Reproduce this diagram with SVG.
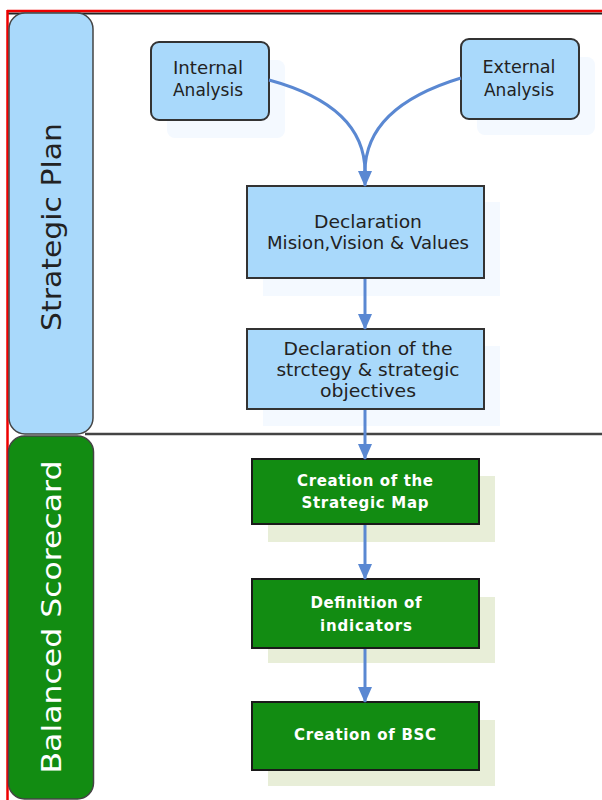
<svg xmlns="http://www.w3.org/2000/svg" width="602" height="800" viewBox="0 0 602 800">
<defs>
<style>
.lane{stroke:#444;stroke-width:1.5}
.bl{fill:#a9d9fb;stroke:#333;stroke-width:2}
.gr{fill:#128c12;stroke:#1a1a1a;stroke-width:2}
.bsh{fill:#f4f9ff}
.gsh{fill:#e8eed8}
.t{font-family:"DejaVu Sans",sans-serif;font-size:17px;fill:#222;text-anchor:middle}
.tw{font-family:"DejaVu Sans",sans-serif;font-size:15px;font-weight:bold;fill:#fff;text-anchor:middle}
.lt{font-family:"DejaVu Sans",sans-serif;font-size:27px;text-anchor:middle}
.c{fill:none;stroke:#5a88d2;stroke-width:3}
</style>
<marker id="ah" viewBox="0 0 16 14" refX="15" refY="7" markerWidth="16" markerHeight="14" markerUnits="userSpaceOnUse" orient="auto">
<path d="M0,0 L16,7 L0,14 Z" fill="#5a88d2"/>
</marker>
</defs>
<rect width="602" height="800" fill="#fff"/>
<g id="frame">
<line x1="7" y1="13.5" x2="602" y2="13.5" stroke="#222" stroke-width="2"/>
<line x1="7" y1="11" x2="602" y2="11" stroke="#e00" stroke-width="2.5"/>
<line x1="7.5" y1="10" x2="7.5" y2="800" stroke="#e00" stroke-width="2.5"/>
<line x1="85" y1="434" x2="602" y2="434" stroke="#444" stroke-width="2.5"/>
</g>
<g id="lane-strategic-plan">
<rect class="lane" x="9" y="13" width="84" height="421" rx="16" fill="#a9d9fb"/>
<text class="lt" fill="#222" transform="translate(61,227) rotate(-90)" textLength="208" lengthAdjust="spacingAndGlyphs">Strategic Plan</text>
</g>
<g id="lane-balanced-scorecard">
<rect class="lane" x="8.5" y="436" width="85" height="363" rx="16" fill="#128c12"/>
<text class="lt" fill="#fff" transform="translate(61,617) rotate(-90)" textLength="313" lengthAdjust="spacingAndGlyphs">Balanced Scorecard</text>
</g>
<g id="internal-analysis">
<rect class="bsh" x="167" y="60" width="118" height="78" rx="8"/>
<rect class="bl" x="151" y="42" width="118" height="78" rx="8"/>
<text class="t" x="208" y="74" textLength="70" lengthAdjust="spacingAndGlyphs">Internal</text>
<text class="t" x="208" y="96" textLength="70" lengthAdjust="spacingAndGlyphs">Analysis</text>
</g>
<g id="external-analysis">
<rect class="bsh" x="477" y="57" width="118" height="78" rx="8"/>
<rect class="bl" x="461" y="39" width="118" height="80" rx="8"/>
<text class="t" x="519" y="73" textLength="73" lengthAdjust="spacingAndGlyphs">External</text>
<text class="t" x="519" y="96" textLength="70" lengthAdjust="spacingAndGlyphs">Analysis</text>
</g>
<g id="declaration-mission">
<rect class="bsh" x="263" y="202" width="237" height="94"/>
<rect class="bl" x="247" y="186" width="237" height="92"/>
<text class="t" x="368" y="228" textLength="108" lengthAdjust="spacingAndGlyphs">Declaration</text>
<text class="t" x="368" y="249" textLength="202" lengthAdjust="spacingAndGlyphs">Mision,Vision &amp; Values</text>
</g>
<g id="declaration-strategy">
<rect class="bsh" x="263" y="346" width="237" height="80"/>
<rect class="bl" x="247" y="329" width="237" height="80"/>
<text class="t" x="368" y="355" textLength="169" lengthAdjust="spacingAndGlyphs">Declaration of the</text>
<text class="t" x="368" y="376" textLength="183" lengthAdjust="spacingAndGlyphs">strctegy &amp; strategic</text>
<text class="t" x="368" y="397" textLength="96" lengthAdjust="spacingAndGlyphs">objectives</text>
</g>
<g id="strategic-map">
<rect class="gsh" x="268" y="476" width="227" height="66"/>
<rect class="gr" x="252" y="459" width="227" height="65"/>
<text class="tw" x="365" y="486" textLength="136" lengthAdjust="spacing">Creation of the</text>
<text class="tw" x="365" y="508" textLength="127" lengthAdjust="spacing">Strategic Map</text>
</g>
<g id="indicators">
<rect class="gsh" x="268" y="597" width="227" height="66"/>
<rect class="gr" x="252" y="579" width="227" height="69"/>
<text class="tw" x="366" y="608" textLength="111" lengthAdjust="spacing">Definition of</text>
<text class="tw" x="366" y="631" textLength="92" lengthAdjust="spacing">indicators</text>
</g>
<g id="bsc">
<rect class="gsh" x="268" y="720" width="227" height="66"/>
<rect class="gr" x="252" y="702" width="227" height="68"/>
<text class="tw" x="365" y="740" textLength="142" lengthAdjust="spacing">Creation of BSC</text>
</g>
<g id="connectors">
<path class="c" d="M269,80 C335,98 365,130 365,172"/>
<path class="c" d="M461,78 C395,98 365,130 365,172"/>
<line class="c" x1="365" y1="170" x2="365" y2="186" marker-end="url(#ah)"/>
<line class="c" x1="365" y1="279" x2="365" y2="329" marker-end="url(#ah)"/>
<line class="c" x1="365" y1="410" x2="365" y2="459" marker-end="url(#ah)"/>
<line class="c" x1="365" y1="525" x2="365" y2="579" marker-end="url(#ah)"/>
<line class="c" x1="365" y1="649" x2="365" y2="702" marker-end="url(#ah)"/>
</g>
</svg>
